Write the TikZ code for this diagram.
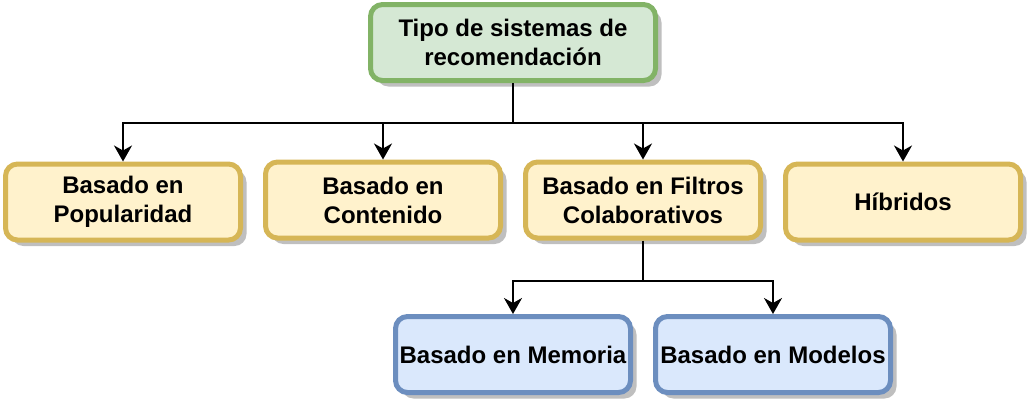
\documentclass[tikz,border=0pt]{standalone}
\usepackage{fontspec}
\setmainfont{Liberation Sans}
\usepackage{tikz}
\usetikzlibrary{positioning, arrows.meta, shadows}
\definecolor{DGreen}{HTML}{82B366}
\definecolor{DGreenBg}{HTML}{D5E8D4}
\definecolor{DGold}{HTML}{D6B656}
\definecolor{DGoldBg}{HTML}{FFF2CC}
\definecolor{DBlue}{HTML}{6C8EBF}
\definecolor{DBlueBg}{HTML}{DAE8FC}

\begin{document}
\begin{tikzpicture}[x=0.5pt, y=-0.5pt,
      box/.style={rectangle, rounded corners=6pt, line width=2.5pt,
                  minimum width=117.5pt, minimum height=38pt, inner sep=0pt,
                  font=\fontsize{12}{14.5}\selectfont\bfseries, align=center,
                  drop shadow={shadow xshift=3pt, shadow yshift=-3pt,
                               fill=black!25, opacity=1}},
      rootbox/.style={box, draw=DGreen, fill=DGreenBg, minimum width=142.5pt},
      typebox/.style={box, draw=DGold, fill=DGoldBg},
      subbox/.style={box, draw=DBlue, fill=DBlueBg},
      link/.style={line width=1pt, -{Stealth[length=8pt, width=9pt, inset=2.5pt]}}
    ]
    \useasboundingbox (0,0) rectangle (1030,404);

    % Root
    \node[rootbox] (tipos) at (513, 42.5) {Tipo de sistemas de\\recomendación};

    % Types
    \node[typebox] (popular)   at (123, 202) {Basado en\\Popularidad};
    \node[typebox] (contenido) at (383, 200) {Basado en\\Contenido};
    \node[typebox] (filtros)   at (643, 200) {Basado en Filtros\\Colaborativos};
    \node[typebox] (hibridos)  at (903, 202) {Híbridos};

    % Collaborative filtering
    \node[subbox] (memoria) at (513, 354.5) {Basado en Memoria};
    \node[subbox] (modelos) at (773, 354.5) {Basado en Modelos};

    % Connectors
    \coordinate (split) at (513, 123);
    \coordinate (splitcf) at (643, 281);
    \draw[link] (tipos.south) -- (split) -| (popular.north);
    \draw[link] (split) -| (contenido.north);
    \draw[link] (split) -| (filtros.north);
    \draw[link] (split) -| (hibridos.north);
    \draw[link] (filtros.south) -- (splitcf) -| (memoria.north);
    \draw[link] (splitcf) -| (modelos.north);
  \end{tikzpicture}
\end{document}
